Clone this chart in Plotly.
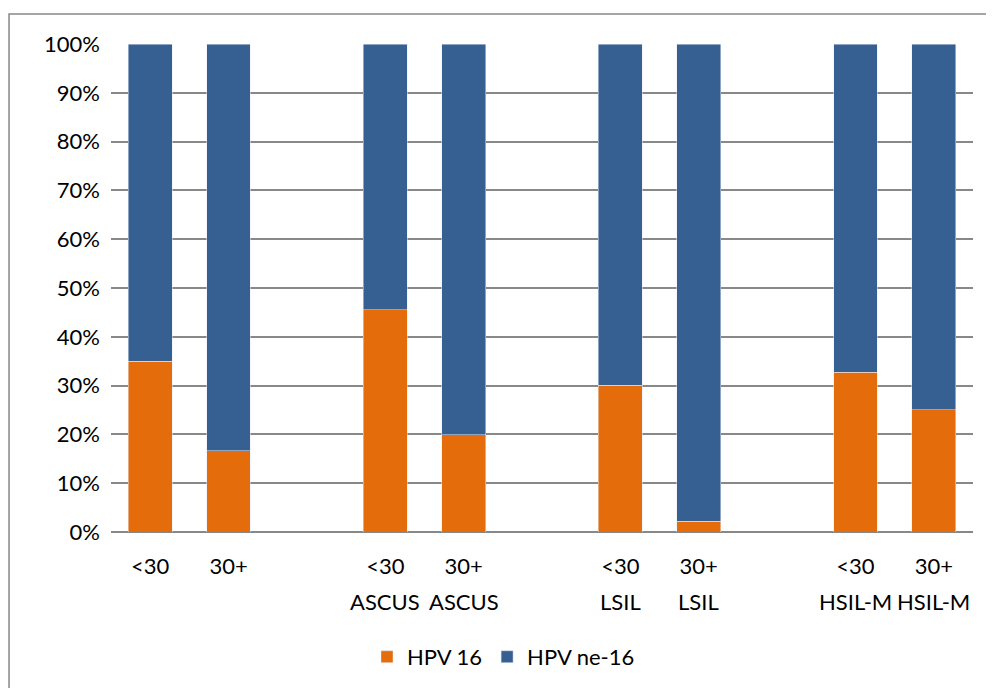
import plotly.graph_objects as go

categories = ["<30", "30+", " ", "<30 ASCUS", "30+ ASCUS", "  ", "<30 LSIL", "30+ LSIL", "   ", "<30 HSIL-M", "30+ HSIL-M"]
tick_line1 = ["<30", "30+", "", "<30", "30+", "", "<30", "30+", "", "<30", "30+"]
tick_line2 = ["", "", "", "ASCUS", "ASCUS", "", "LSIL", "LSIL", "", "HSIL-M", "HSIL-M"]
hpv16 = [35.0, 16.6, None, 45.5, 19.9, None, 30.1, 2.2, None, 32.7, 25.1]
hpv_ne16 = [None if v is None else 100 - v for v in hpv16]
y_ticks = [0, 10, 20, 30, 40, 50, 60, 70, 80, 90, 100]
y_ticktext = [f"{v}%" for v in y_ticks]

FONT = "Lato"
FS = 22
fig = go.Figure()
fig.add_trace(go.Bar(x=categories, y=hpv16, name="HPV 16", marker_color="#E46C0A"))
fig.add_trace(go.Bar(x=categories, y=hpv_ne16, name="HPV ne-16", marker_color="#366092"))

for c, t in zip(categories, tick_line2):
    if t:
        fig.add_annotation(x=c, xref="x", y=-0.142, yref="paper", text=t, showarrow=False,
                           yanchor="middle", font=dict(family=FONT, size=FS, color="#000"))

fig.update_layout(
    barmode="stack",
    bargap=0.44,
    width=994, height=688,
    margin=dict(l=103, r=29, t=36, b=164, autoexpand=False),
    paper_bgcolor="white", plot_bgcolor="white",
    font=dict(family=FONT, size=FS, color="#000"),
    showlegend=True,
    legend=dict(orientation="h", x=0.297, xanchor="left", y=-0.256, yanchor="middle",
                font=dict(family=FONT, size=FS), itemwidth=30, traceorder="normal"),
    shapes=[dict(type="rect", xref="paper", yref="paper", x0=-0.1183, x1=1.2, y0=-0.5, y1=1.0615,
                 line=dict(color="#888888", width=1.5), fillcolor="rgba(0,0,0,0)", layer="below")],
)
fig.update_xaxes(type="category", categoryorder="array", categoryarray=categories,
                 tickmode="array", tickvals=categories, ticktext=tick_line1, automargin=False,
                 showgrid=False, showline=False, ticks="", ticklabelstandoff=19)
fig.update_yaxes(range=[0, 100], tickmode="array", tickvals=y_ticks, ticktext=y_ticktext,
                 automargin=False,
                 showgrid=True, gridcolor="#888888", gridwidth=1.8, zeroline=True,
                 zerolinecolor="#888888", zerolinewidth=1.8, showline=False, ticks="",
                 ticklabelstandoff=10)
fig.write_html("out.html")
